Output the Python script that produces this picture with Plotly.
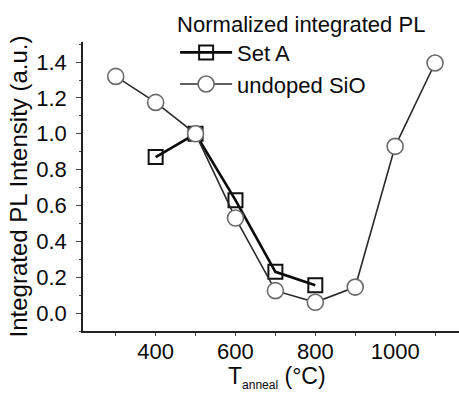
import plotly.graph_objects as go

setA_x = [400, 500, 600, 700, 800]
setA_y = [0.87, 1.00, 0.63, 0.23, 0.155]
sio_x = [300, 400, 500, 600, 700, 800, 900, 1000, 1100]
sio_y = [1.32, 1.175, 1.00, 0.53, 0.125, 0.06, 0.145, 0.93, 1.395]

FONT = "Liberation Sans, Arial, sans-serif"

fig = go.Figure()
fig.add_trace(go.Scatter(
    x=setA_x, y=setA_y, mode="lines+markers", name="Set A",
    line=dict(color="#0a0a0a", width=2.6),
    marker=dict(symbol="square-open", size=14, color="#111111", line=dict(width=2)),
))
fig.add_trace(go.Scatter(
    x=sio_x, y=sio_y, mode="lines+markers", name="undoped SiO",
    line=dict(color="#2a2a2a", width=1.6),
    marker=dict(symbol="circle", size=16, color="white", line=dict(color="#6a6a6a", width=1.6)),
))

fig.add_annotation(
    text="T<sub><span style='font-size:12px'>anneal</span></sub> (°C)",
    xref="paper", yref="paper", x=0.516, y=-0.16, xanchor="center", yanchor="middle",
    showarrow=False, font=dict(size=23),
)

fig.update_layout(
    width=459, height=394,
    margin=dict(l=83, r=0, t=42, b=63),
    paper_bgcolor="white", plot_bgcolor="white",
    font=dict(family=FONT, size=22, color="#0a0a0a"),
    legend=dict(
        title=dict(text="Normalized integrated PL", side="top", font=dict(size=22)),
        x=0.245, y=1.135, xanchor="left", yanchor="top",
        bgcolor="rgba(0,0,0,0)",
        font=dict(size=22), itemwidth=52,
    ),
    xaxis=dict(
        range=[218, 1160], showline=True, linecolor="#222222", linewidth=1.5,
        tickvals=[400, 600, 800, 1000], ticks="outside", ticklen=3, tickwidth=1,
        ticklabelstandoff=-3,
        minor=dict(tickvals=[300, 500, 700, 900, 1100], ticks="outside", ticklen=3),
        showgrid=False, zeroline=False, mirror=False,
        tickfont=dict(size=22),
    ),
    yaxis=dict(
        range=[-0.1, 1.512], showline=True, linecolor="#222222", linewidth=1.5,
        tickvals=[0.0, 0.2, 0.4, 0.6, 0.8, 1.0, 1.2, 1.4], tickformat=".1f",
        ticks="outside", ticklen=5, tickwidth=1, ticklabelstandoff=5,
        minor=dict(tickvals=[-0.1, 0.1, 0.3, 0.5, 0.7, 0.9, 1.1, 1.3, 1.5], ticks="outside", ticklen=2),
        showgrid=False, zeroline=False,
        tickfont=dict(size=22),
        title=dict(text="Integrated PL Intensity (a.u.)", font=dict(size=24), standoff=2),
    ),
)

fig.write_html("out.html")
